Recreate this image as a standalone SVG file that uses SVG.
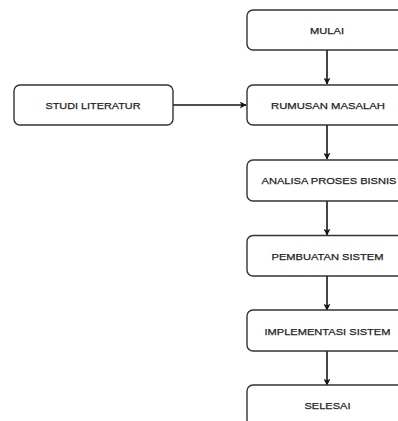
<svg xmlns="http://www.w3.org/2000/svg" width="398" height="421" viewBox="0 0 398 421">
  <style>
    .box { fill: #ffffff; stroke: #333333; stroke-width: 1.4; }
    .lbl { font-family: "Liberation Sans", Arial, sans-serif; font-size: 9.8px; fill: #1e1e1e; stroke: #1e1e1e; stroke-width: 0.25; text-anchor: middle; }
    .edge { fill: none; stroke: #151515; stroke-width: 1.6; }
  </style>
  <defs>
    <marker id="arrow" viewBox="0 0 10 10" refX="9" refY="5" markerWidth="7" markerHeight="7" markerUnits="userSpaceOnUse" orient="auto">
      <path d="M0,0 L10,5 L0,10 L2.5,5 Z" fill="#151515"/>
    </marker>
  </defs>
  <rect width="398" height="421" fill="#ffffff"/>

  <g id="connectors">
    <line class="edge" x1="327" y1="50" x2="327" y2="84" marker-end="url(#arrow)"/>
    <line class="edge" x1="173" y1="105" x2="246" y2="105" marker-end="url(#arrow)"/>
    <line class="edge" x1="327" y1="125" x2="327" y2="159" marker-end="url(#arrow)"/>
    <line class="edge" x1="327" y1="201" x2="327" y2="235" marker-end="url(#arrow)"/>
    <line class="edge" x1="327" y1="276" x2="327" y2="310" marker-end="url(#arrow)"/>
    <line class="edge" x1="327" y1="351" x2="327" y2="385" marker-end="url(#arrow)"/>
  </g>

  <g id="mulai">
    <rect class="box" x="247" y="10" width="160" height="40" rx="6"/>
    <text class="lbl" x="327" y="34" textLength="34" lengthAdjust="spacingAndGlyphs">MULAI</text>
  </g>
  <g id="studi-literatur">
    <rect class="box" x="14" y="85" width="159" height="40" rx="6"/>
    <text class="lbl" x="93" y="109" textLength="95" lengthAdjust="spacingAndGlyphs">STUDI LITERATUR</text>
  </g>
  <g id="rumusan-masalah">
    <rect class="box" x="247" y="85" width="160" height="40" rx="6"/>
    <text class="lbl" x="328" y="109" textLength="114" lengthAdjust="spacingAndGlyphs">RUMUSAN MASALAH</text>
  </g>
  <g id="analisa-proses-bisnis">
    <rect class="box" x="247" y="160" width="160" height="41" rx="6"/>
    <text class="lbl" x="329" y="184" textLength="135" lengthAdjust="spacingAndGlyphs">ANALISA PROSES BISNIS</text>
  </g>
  <g id="pembuatan-sistem">
    <rect class="box" x="247" y="235.5" width="160" height="40.5" rx="6"/>
    <text class="lbl" x="327.5" y="259.5" textLength="112" lengthAdjust="spacingAndGlyphs">PEMBUATAN SISTEM</text>
  </g>
  <g id="implementasi-sistem">
    <rect class="box" x="247" y="310" width="160" height="41" rx="6"/>
    <text class="lbl" x="327.5" y="334.5" textLength="126" lengthAdjust="spacingAndGlyphs">IMPLEMENTASI SISTEM</text>
  </g>
  <g id="selesai">
    <rect class="box" x="247" y="385" width="160" height="41" rx="6"/>
    <text class="lbl" x="327.5" y="409" textLength="46" lengthAdjust="spacingAndGlyphs">SELESAI</text>
  </g>
</svg>
